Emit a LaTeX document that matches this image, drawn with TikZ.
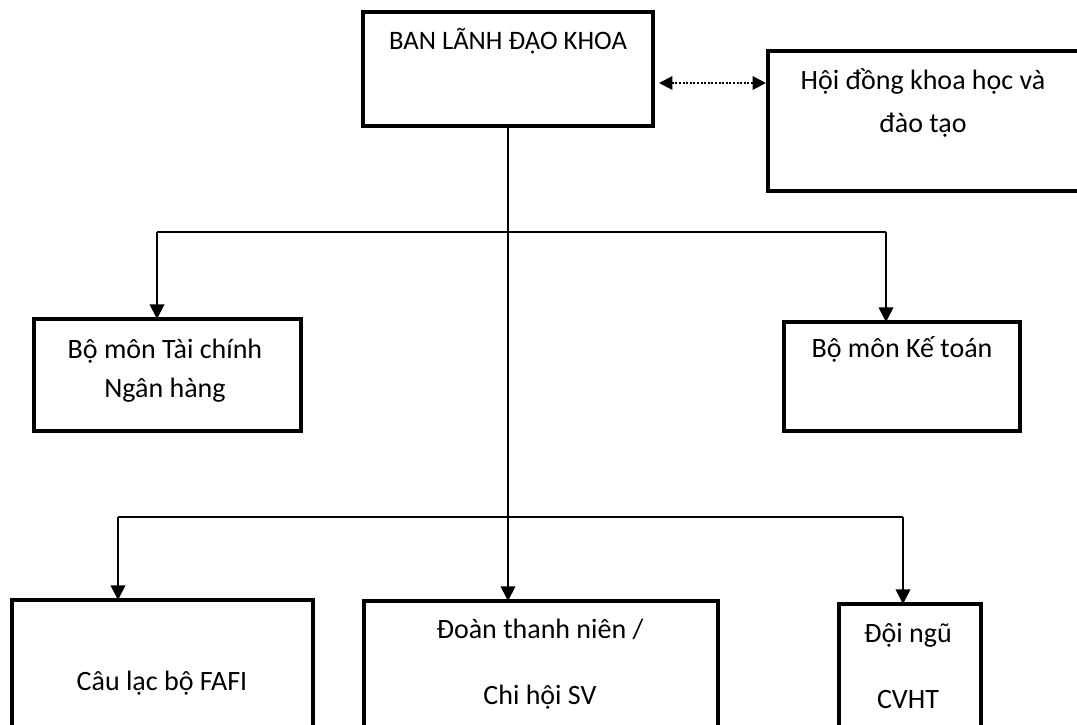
\documentclass[tikz,border=0pt]{standalone}
\usepackage{fontspec}
\setmainfont{Carlito}
\usetikzlibrary{arrows.meta}
\begin{document}
\begin{tikzpicture}[x=0.75pt,y=-0.75pt,
  box/.style={draw, line width=3.5pt, inner sep=0pt, outer sep=0pt},
  lbl/.style={align=center, anchor=base, inner sep=0pt, font=\fontsize{21}{#1}\selectfont},
  lbl/.default=25,
  conn/.style={line width=1.3pt},
  arr/.style={conn, -{Triangle[width=11pt,length=11pt]}},
  darr/.style={line width=1.5pt, dash pattern=on 1.5pt off 1.2pt,
    {Triangle[width=10pt,length=10pt]}-{Triangle[width=10pt,length=10pt]}}]
\useasboundingbox (0,0) rectangle (1077,724);
\clip (0,0) rectangle (1077,724);
% boxes
\node[box, minimum width=217.5pt, minimum height=85.5pt] (ban) at (508,69) {};
\node[box, minimum width=249pt, minimum height=105pt] (hoi) at (934,121) {};
\node[box, minimum width=200.25pt, minimum height=84pt] (tcnh) at (167.5,375) {};
\node[box, minimum width=177pt, minimum height=81.75pt] (kt) at (902,376.5) {};
\node[box, minimum width=225.75pt, minimum height=120pt] (clb) at (162.5,680) {};
\node[box, minimum width=265.5pt, minimum height=119.25pt] (doan) at (541,680.5) {};
\node[box, minimum width=106.5pt, minimum height=117pt] (doi) at (910,682) {};
% texts (anchor=base is the baseline of the last line)
\node[lbl, font=\fontsize{20}{25}\selectfont] (tban) at (508,50) {BAN LÃNH ĐẠO KHOA};
\node[lbl=32] (thoi) at (923,132) {Hội đồng khoa học và\\đào tạo};
\node[lbl=29] (ttcnh) at (165,397) {Bộ môn Tài chính\\Ngân hàng};
\node[lbl] (tkt) at (902,357) {Bộ môn Kế toán};
\node[lbl] (tclb) at (162,690) {Câu lạc bộ FAFI};
\node[lbl=49.5] (tdoan) at (540,704) {Đoàn thanh niên /\\Chi hội SV};
\node[lbl=49.5] (tdoi) at (908,708) {Đội ngũ\\CVHT};
% junction coordinates
\coordinate (a1) at (157,232);
\coordinate (a2) at (886,232);
\coordinate (b1) at (118,517);
\coordinate (b2) at (903,517);
\coordinate (dy) at (0,83);
% connectors
\draw[arr] (ban.south) -- (ban.south |- doan.north);
\draw[conn] (a1) -- (a2);
\draw[arr] (a1) -- (a1 |- tcnh.north);
\draw[arr] (a2) -- (a2 |- kt.north);
\draw[conn] (b1) -- (b2);
\draw[arr] (b1) -- (b1 |- clb.north);
\draw[arr] (b2) -- (b2 |- doi.north);
\draw[darr, shorten <=4.5pt, shorten >=1.5pt] (ban.east |- dy) -- (hoi.west |- dy);
\end{tikzpicture}
\end{document}
